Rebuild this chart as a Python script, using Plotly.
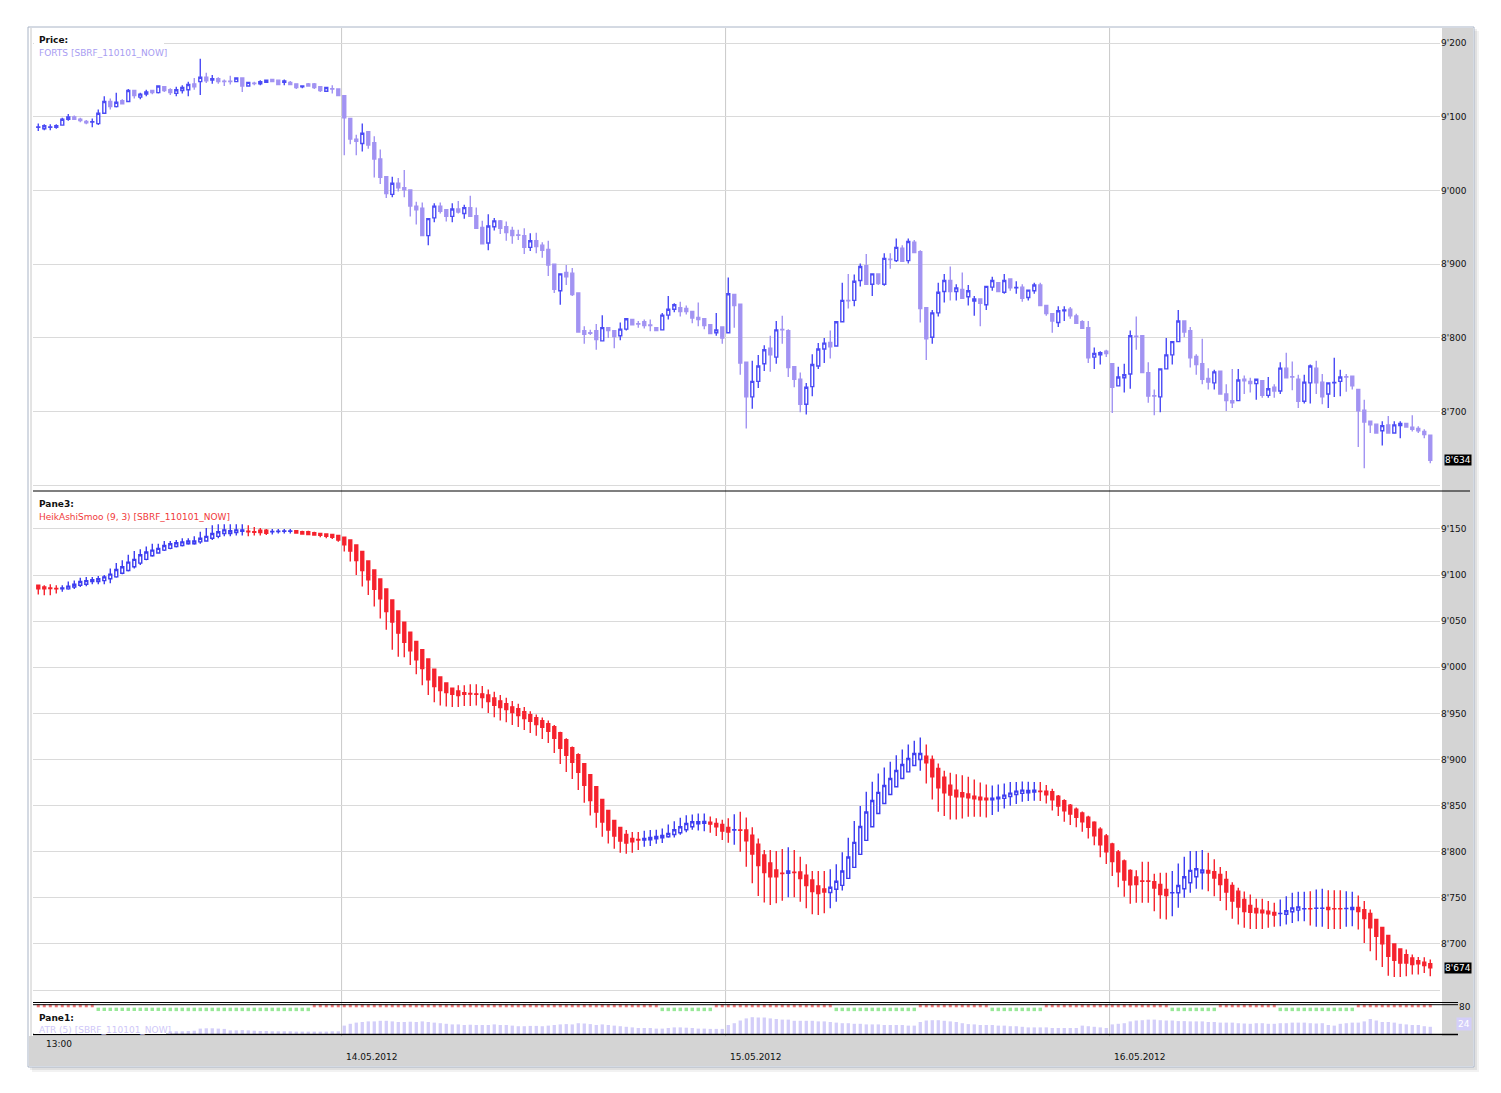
import plotly.graph_objects as go

# ---------------- DATA ----------------
price_open = [
    9086, 9084, 9086, 9086, 9089, 9097, 9100, 9097, 9094, 9093,
    9091, 9105, 9121, 9114, 9122, 9121, 9136, 9127, 9131, 9136,
    9133, 9141, 9137, 9132, 9136, 9137, 9145, 9148, 9154, 9150,
    9152, 9148.5, 9148.5, 9148, 9153, 9142, 9146, 9145, 9147, 9151,
    9150, 9147, 9147, 9145, 9141, 9145, 9145, 9141, 9135, 9138.5,
    9138, 9129, 9098, 9070, 9064, 9080, 9065, 9043, 9019, 8995,
    9010, 9004, 9001, 8979, 8976, 8939, 8963, 8979, 8974, 8965,
    8975, 8969, 8977, 8966, 8950, 8929, 8951, 8959, 8951, 8946,
    8940, 8939, 8923, 8932, 8926, 8920, 8900, 8864, 8889, 8888,
    8861, 8810, 8807, 8810, 8796, 8814, 8810, 8803, 8812, 8825,
    8819.5, 8822, 8817.5, 8814, 8811, 8831, 8839, 8841, 8840, 8836,
    8828, 8826, 8818, 8807, 8815, 8807, 8859, 8846, 8767, 8720,
    8741, 8765, 8786, 8774, 8811.5, 8810, 8761, 8744, 8710, 8734,
    8762, 8785, 8794, 8789, 8822, 8851, 8851, 8878, 8898, 8873,
    8887, 8873, 8907, 8905, 8922, 8905, 8930, 8917, 8841, 8801,
    8834, 8863, 8878, 8863, 8866, 8856, 8850, 8853, 8845, 8869,
    8875, 8862, 8880, 8868, 8869, 8855, 8864, 8872, 8844, 8833,
    8821, 8837, 8839, 8830, 8822, 8814, 8774, 8777, 8782, 8765,
    8735, 8746, 8751, 8802.5, 8803, 8753, 8721.5, 8720, 8758, 8777,
    8795, 8823, 8810, 8775, 8765, 8745, 8739, 8755, 8724, 8715,
    8715, 8744, 8741, 8738, 8742, 8722, 8733, 8728, 8759, 8747.5,
    8744, 8714, 8739, 8759, 8740, 8724, 8739, 8741, 8747.5, 8748,
    8730, 8702, 8687, 8683, 8674, 8682, 8671, 8681, 8684, 8679,
    8677, 8673, 8668,
]
price_high = [
    9091, 9090, 9090, 9090, 9099, 9104, 9102, 9099, 9096, 9098,
    9110, 9128, 9125, 9133, 9124, 9138, 9137, 9133, 9137, 9137,
    9143, 9142, 9139, 9141, 9143, 9148, 9153, 9179, 9160, 9157,
    9154, 9151, 9156, 9154, 9153, 9148, 9148, 9150, 9151, 9152,
    9150, 9151, 9149, 9145, 9143, 9146, 9146, 9141, 9141, 9143,
    9138, 9129, 9099, 9076, 9091, 9081, 9074, 9056, 9019, 9019,
    9017, 9028, 9002, 8985, 8984, 8963, 8983, 8984, 8975, 8983,
    8986, 8981, 8993, 8977, 8959, 8968, 8963, 8960, 8958, 8951,
    8947, 8949, 8942, 8943, 8930, 8932, 8900, 8887, 8899, 8895,
    8861, 8816, 8811, 8819, 8831, 8814, 8810, 8821, 8827, 8826,
    8823, 8825, 8825, 8815, 8834, 8857, 8847, 8849, 8844, 8836,
    8848, 8826, 8818, 8834, 8815, 8882, 8859, 8846, 8767, 8769,
    8777, 8790, 8803, 8823, 8830, 8812, 8761, 8753, 8739, 8778,
    8793, 8800, 8810, 8823, 8875, 8887, 8886, 8901, 8914, 8888,
    8888, 8915, 8915, 8935, 8926, 8935, 8933, 8919, 8841, 8838,
    8875, 8887, 8897, 8873, 8889, 8872, 8857, 8853, 8870, 8883,
    8875, 8887, 8880, 8877, 8873, 8865, 8875, 8875, 8844, 8833,
    8843, 8843, 8842, 8833, 8824, 8823, 8787, 8782, 8784, 8765,
    8761, 8765, 8810, 8829, 8803, 8767, 8730, 8758, 8800, 8795,
    8838, 8823, 8815, 8778, 8799, 8759, 8757, 8755, 8737, 8758,
    8758, 8749, 8746, 8745, 8742, 8747, 8737, 8767, 8780, 8768,
    8750, 8750, 8764, 8769, 8751, 8739, 8773, 8757, 8751, 8749,
    8730, 8716, 8687, 8683, 8687, 8694, 8687, 8687, 8684, 8695,
    8680, 8676, 8669,
]
price_low = [
    9081, 9082, 9082, 9084, 9089, 9095, 9096, 9093, 9090, 9086,
    9089, 9104, 9110, 9113, 9117, 9120, 9125, 9124, 9128, 9131,
    9132, 9134, 9130, 9128, 9132, 9128, 9137, 9130, 9146, 9145,
    9145, 9142, 9144, 9147, 9134, 9141, 9143, 9143, 9146, 9147,
    9143, 9143, 9143, 9138, 9139, 9141, 9138, 9134, 9134, 9132,
    9129, 9048, 9063, 9048, 9053, 9057, 9018, 9009, 8990, 8991,
    8999, 8991, 8965, 8954, 8939, 8926, 8957, 8969, 8958, 8957,
    8969, 8962, 8965, 8948, 8927, 8919, 8946, 8941, 8932, 8928,
    8933, 8914, 8918, 8915, 8909, 8884, 8861, 8845, 8872, 8857,
    8807, 8792, 8804, 8784, 8796, 8800, 8786, 8797, 8810, 8817,
    8814, 8813, 8809, 8810, 8810, 8825, 8835, 8829, 8832, 8820,
    8816, 8812, 8805, 8803, 8792, 8807, 8814, 8750, 8677, 8704,
    8732, 8755, 8754, 8765, 8792, 8747, 8733, 8699, 8696, 8721,
    8758, 8766, 8772, 8788, 8822, 8840, 8843, 8870, 8873, 8857,
    8872, 8871, 8894, 8903, 8903, 8901, 8916, 8821, 8770, 8792,
    8829, 8848, 8851, 8851, 8854, 8844, 8830, 8816, 8838, 8864,
    8863, 8860, 8864, 8860, 8849, 8851, 8860, 8843, 8830, 8807,
    8815, 8823, 8826, 8819, 8813, 8766, 8758, 8764, 8774, 8698,
    8735, 8726, 8731, 8784, 8753, 8712, 8695, 8699, 8758, 8764,
    8795, 8801, 8760, 8750, 8737, 8730, 8730, 8724, 8701, 8705,
    8715, 8724, 8726, 8716, 8719, 8719, 8719, 8724, 8746, 8729,
    8705, 8711, 8711, 8724, 8710, 8705, 8720, 8721, 8727, 8730,
    8652, 8623, 8671, 8671, 8654, 8671, 8671, 8664, 8679, 8673,
    8671, 8664, 8630,
]
price_close = [
    9086.5, 9088, 9086.5, 9088, 9097, 9100, 9097, 9095, 9092, 9093.5,
    9105, 9121, 9114, 9120, 9118, 9136, 9129, 9131, 9134, 9133,
    9142, 9136, 9133, 9137, 9140, 9144, 9141, 9154, 9149, 9152,
    9148, 9148, 9148, 9153, 9142, 9147, 9145.5, 9148, 9150, 9148,
    9144, 9149, 9144, 9140, 9142, 9142, 9140, 9136, 9140, 9138,
    9129, 9099, 9070, 9067, 9078, 9062, 9043, 9018, 8996, 9010,
    9004, 9001, 8979, 8974, 8939, 8962, 8979, 8972, 8965, 8975,
    8971, 8977, 8965, 8949, 8928, 8952, 8959, 8949, 8943, 8939,
    8939.5, 8923, 8932, 8924, 8919, 8899, 8866, 8887, 8883, 8859,
    8808, 8805, 8806.5, 8798, 8814, 8810, 8802, 8812, 8826, 8818,
    8819, 8817, 8817, 8810, 8831, 8839, 8845, 8836, 8836, 8827,
    8825, 8817, 8806, 8811, 8800, 8860, 8844, 8766, 8720, 8741,
    8762, 8784, 8777, 8811, 8811, 8760, 8744, 8710, 8733, 8764,
    8785, 8793, 8788, 8822, 8851, 8850.5, 8877, 8897, 8873, 8887,
    8874, 8908, 8906.5, 8923, 8904, 8931, 8916, 8840, 8799, 8834,
    8862, 8878, 8863, 8868, 8854, 8864, 8853, 8847, 8870, 8878,
    8863, 8878, 8868, 8868.5, 8854, 8865, 8872, 8844, 8833, 8823,
    8837, 8838, 8830, 8820, 8813, 8773, 8779, 8780, 8779, 8733,
    8747, 8750, 8803, 8802, 8753, 8721, 8721, 8758, 8777, 8795,
    8823, 8808, 8773, 8764, 8744, 8740, 8754, 8724, 8715, 8712,
    8743, 8742, 8738, 8744, 8722, 8731, 8728, 8759, 8746, 8747,
    8714, 8740, 8762, 8739, 8720, 8739, 8739.5, 8747, 8747, 8735,
    8701, 8686, 8682, 8671, 8681, 8671, 8682, 8684, 8679, 8676,
    8674, 8669, 8634,
]

ha_open = [
    9089, 9087, 9086, 9085.5, 9085, 9085, 9087, 9089, 9090, 9093,
    9093, 9094, 9096, 9098, 9102, 9105, 9109, 9113, 9117, 9121,
    9124, 9127, 9129, 9131, 9132, 9134, 9134, 9136, 9137, 9140,
    9142, 9145, 9145, 9146, 9147.5, 9147.5, 9147, 9148.6, 9148.6, 9147,
    9147.2, 9147.4, 9147.5, 9148.2, 9147, 9147, 9146, 9145, 9144.6, 9144,
    9143, 9141, 9138, 9132.7, 9125.5, 9115.3, 9105.6, 9095.8, 9085, 9073,
    9061, 9049, 9038, 9028, 9019, 9009, 8998, 8989.5, 8983, 8977.3,
    8974.4, 8972.3, 8971.5, 8971.2, 8971.2, 8970, 8966.8, 8963.6, 8960.4, 8957.1,
    8955, 8951.7, 8948.5, 8945.2, 8942, 8938.7, 8935.5, 8929, 8921.4, 8912.8,
    8905.2, 8895.5, 8883.6, 8870.6, 8856.6, 8844.7, 8833.9, 8826.3, 8818.7, 8814.4,
    8813.3, 8812.7, 8813, 8814, 8815.1, 8816.2, 8818.7, 8820.5, 8823.8, 8827,
    8830.3, 8830.9, 8832.1, 8830.6, 8829.5, 8826.3, 8823.6, 8823.6, 8823.5, 8818,
    8808, 8796.4, 8787.7, 8780.1, 8776.8, 8776.5, 8777.8, 8778, 8774.4, 8769.3,
    8762.8, 8759.6, 8755.8, 8759.2, 8763.5, 8771.1, 8783, 8797.1, 8812.3, 8827.1,
    8841.5, 8852.3, 8862.1, 8870.4, 8879.4, 8886.6, 8893.5, 8900, 8903.6, 8900,
    8890.3, 8880.9, 8872.2, 8866.8, 8863.9, 8862.5, 8860.3, 8859.2, 8858.1, 8856.3,
    8857.4, 8857.8, 8859.9, 8862.1, 8863.2, 8863.9, 8864.6, 8865.6, 8865.7, 8865,
    8860.3, 8855.2, 8850.5, 8846.2, 8841.9, 8837.5, 8832.1, 8824.5, 8817, 8808.3,
    8799.6, 8789.9, 8779.7, 8772.5, 8768.3, 8768.2, 8767.4, 8764.5, 8759.1, 8755.4,
    8755.4, 8759.8, 8766.3, 8772.8, 8777.2, 8779.7, 8778.3, 8775.4, 8769.9, 8763.4,
    8757.2, 8748.2, 8741.7, 8738.4, 8736.6, 8735.5, 8734.1, 8732.9, 8732.2, 8734.8,
    8736.6, 8738, 8738.2, 8738.6, 8738.6, 8739.5, 8738.2, 8738.2, 8738.3, 8737.3,
    8739.5, 8737, 8733, 8726.4, 8717.8, 8709.1, 8700, 8694.6, 8688.4, 8684.8,
    8681.9, 8680.1, 8678.6,
]
ha_high = [
    9089.5, 9089, 9090, 9089, 9089, 9093, 9094, 9097, 9098, 9098,
    9099, 9100, 9107, 9113, 9116, 9122, 9126, 9128, 9131, 9134,
    9134, 9137, 9137, 9138, 9140, 9140, 9142, 9147, 9151, 9154,
    9155, 9155, 9155, 9155, 9155, 9154, 9152, 9151, 9150, 9150,
    9150, 9150, 9150, 9149, 9148, 9148, 9147, 9146, 9145.3, 9144.6,
    9143.5, 9141.7, 9138, 9132.7, 9125.5, 9115.3, 9105.6, 9095.8, 9085, 9073,
    9061, 9049, 9038, 9028, 9019, 9009, 8998, 8989.5, 8983, 8977.3,
    8980.5, 8980.5, 8981.6, 8981.6, 8979.8, 8975.9, 8973.5, 8969.9, 8967, 8963.3,
    8960.4, 8956.8, 8952.4, 8948.8, 8945.6, 8942.3, 8937.3, 8930, 8922.9, 8914.2,
    8906.7, 8896.2, 8884.3, 8871, 8857.3, 8845.4, 8834.6, 8827, 8823.4, 8821.3,
    8821.3, 8822.7, 8823.4, 8823.8, 8825.2, 8829.5, 8833.1, 8836.8, 8839.6, 8840.4,
    8841.4, 8841.4, 8838.2, 8836.4, 8834.6, 8836.4, 8840.7, 8843.3, 8837.2, 8826.4,
    8814.4, 8801.8, 8801.8, 8800.7, 8802.9, 8804.7, 8801.8, 8794.6, 8786.3, 8779,
    8779, 8779, 8780.9, 8786.3, 8799.3, 8815.2, 8833.2, 8849.5, 8865, 8875.8,
    8884.8, 8891.3, 8897.5, 8904.7, 8910.8, 8916.2, 8920.2, 8923.8, 8916.2, 8904.3,
    8895.7, 8887.7, 8885.6, 8884.1, 8883, 8881.2, 8878.3, 8875.1, 8872.9, 8871.8,
    8872.9, 8874, 8875.5, 8875.5, 8876.2, 8875.8, 8875.5, 8875.5, 8872.2, 8868.2,
    8861.4, 8857, 8851.6, 8848, 8843.7, 8839, 8832.9, 8826.4, 8819.1, 8809.7,
    8801.8, 8791.5, 8781, 8780, 8789.1, 8789.1, 8776.1, 8777.2, 8777.2, 8779,
    8787.3, 8794.6, 8800.7, 8800.7, 8801.8, 8798.9, 8791.7, 8783.3, 8779, 8767,
    8760.9, 8756.9, 8753.6, 8748.9, 8748.9, 8746.4, 8744.6, 8748.2, 8751.8, 8755.4,
    8756.5, 8756.5, 8757.2, 8759.1, 8759.8, 8758.3, 8758.3, 8758.3, 8757.2, 8756.5,
    8752.5, 8746.4, 8737.3, 8727, 8717.8, 8709.1, 8700, 8694.6, 8693.8, 8688.4,
    8685.9, 8685.5, 8683,
]
ha_low = [
    9079, 9078, 9078, 9080, 9082, 9084, 9085, 9087, 9088, 9090,
    9090, 9090, 9091, 9097, 9101, 9104, 9107, 9111, 9116, 9120,
    9123, 9126, 9128, 9130, 9131, 9133, 9133, 9134, 9136, 9138,
    9140, 9142, 9142, 9143, 9143, 9142, 9143, 9143, 9143.5, 9144,
    9145, 9145, 9145, 9145.3, 9144, 9143.5, 9143, 9141, 9140, 9139,
    9136, 9125.5, 9114.6, 9100, 9087.5, 9078.5, 9066, 9053, 9040.6, 9019,
    9011.5, 9011, 9002.5, 8992.4, 8980.5, 8970, 8962, 8958.6, 8957.5, 8956.8,
    8956.8, 8958, 8958, 8958.6, 8955.7, 8950.3, 8945.9, 8942.3, 8940.5, 8937.3,
    8935.1, 8931.9, 8928.6, 8925.8, 8922.2, 8917.8, 8906.9, 8895.1, 8886.5, 8878.9,
    8867, 8853, 8839.3, 8826, 8816.2, 8809, 8803.2, 8798.9, 8797.8, 8798.9,
    8801.8, 8805.4, 8806.1, 8808.6, 8809.4, 8815, 8815.5, 8818.3, 8821, 8823.8,
    8823.1, 8822.3, 8820.5, 8816.9, 8812.6, 8809.7, 8807.6, 8800, 8783.8, 8765.7,
    8752, 8744.8, 8742.2, 8744, 8746.9, 8750.5, 8750.5, 8745.8, 8738.6, 8732.1,
    8731.4, 8733.2, 8738.6, 8745.8, 8757.8, 8770.4, 8782.7, 8796.4, 8811.6, 8827.1,
    8840.8, 8851.6, 8861.4, 8869.7, 8878.7, 8885.9, 8892.8, 8887.7, 8874, 8856.7,
    8843.3, 8838.6, 8835, 8835, 8836.1, 8837.9, 8837.9, 8837.9, 8837.2, 8839.7,
    8843.3, 8846.9, 8849.8, 8851.6, 8854.2, 8854.9, 8855.2, 8854.9, 8852.3, 8844.8,
    8838.6, 8832.5, 8828.9, 8826.4, 8821.7, 8814.4, 8806.9, 8793.9, 8786.6, 8773.6,
    8761.4, 8751.1, 8743.5, 8744.6, 8744.6, 8744.6, 8735.5, 8727.2, 8726.4, 8730.1,
    8739.1, 8750, 8755.4, 8759.8, 8759.1, 8757.2, 8751.8, 8746.4, 8736.6, 8727.2,
    8721, 8717.4, 8716.3, 8716.3, 8716.3, 8717.4, 8718.5, 8719.2, 8721, 8722.8,
    8724.6, 8724.6, 8719.9, 8718.5, 8718.5, 8716.3, 8716.3, 8716.3, 8718.5, 8719.2,
    8715.6, 8701.1, 8692, 8682.2, 8675, 8665.6, 8664.1, 8664.1, 8664.9, 8666.7,
    8666.7, 8668.5, 8664.9,
]
ha_close = [
    9085, 9085, 9085.5, 9085, 9086, 9088, 9090, 9093, 9094, 9095,
    9096, 9098, 9101, 9106, 9109, 9114, 9117, 9122, 9125, 9127,
    9129, 9132, 9134, 9135, 9136, 9137, 9137, 9140, 9142, 9145,
    9147, 9149, 9148, 9149, 9149, 9147, 9146.5, 9146, 9145.3, 9147.4,
    9147.6, 9147.8, 9147.9, 9145.7, 9144.5, 9144, 9143.5, 9143, 9142, 9141,
    9138, 9132.7, 9126, 9115.7, 9105, 9094.8, 9084.7, 9074.2, 9060.5, 9049,
    9037, 9027, 9018, 9008, 8998.6, 8986.3, 8979.1, 8974.8, 8972.6, 8970.8,
    8969.4, 8970.8, 8971, 8970.8, 8967.2, 8962.9, 8958.9, 8956.4, 8954.2, 8951,
    8947.7, 8944.5, 8941.3, 8938, 8934.8, 8930.5, 8922.9, 8912.1, 8904.5, 8896.9,
    8886.1, 8872.1, 8855.5, 8842.9, 8832.1, 8823.4, 8816.9, 8811.5, 8809.4, 8810.8,
    8812.7, 8814.4, 8815.5, 8816.6, 8817.7, 8819.8, 8823.8, 8827, 8830.6, 8832.4,
    8832.4, 8832.8, 8829.9, 8827, 8822.3, 8821.3, 8823.8, 8823.3, 8811.9, 8797.5,
    8785, 8777.3, 8772.9, 8772.9, 8776.3, 8779, 8777.3, 8770.8, 8763.2, 8756.7,
    8754.5, 8756.3, 8761.4, 8767.9, 8779, 8794.2, 8810.1, 8827.4, 8843, 8855.6,
    8864.3, 8871.8, 8879.4, 8888.1, 8894.6, 8901.1, 8906.5, 8906.5, 8896.4, 8881.2,
    8869.3, 8863.9, 8861.4, 8859.6, 8859.6, 8858.5, 8857.4, 8856.3, 8856.3, 8858.1,
    8859.2, 8861.4, 8863.5, 8865.7, 8866.8, 8866.4, 8866.8, 8865.3, 8861.7, 8856.3,
    8849.5, 8844.4, 8840.8, 8837.2, 8832.5, 8826.4, 8817.3, 8807.6, 8800, 8789.2,
    8778.3, 8769.2, 8764.1, 8764.5, 8768, 8767.8, 8760.5, 8753.6, 8752.5, 8755.6,
    8763.4, 8772.8, 8779.7, 8781.5, 8780.1, 8776.8, 8771.4, 8764.5, 8756.2, 8746.4,
    8739.9, 8735.1, 8734.4, 8733.7, 8733.7, 8732.6, 8731.2, 8733.1, 8735.9, 8739.1,
    8740.2, 8738.2, 8738, 8738.8, 8738.8, 8737.3, 8738, 8738, 8738.5, 8739.5,
    8735.1, 8727.5, 8717.4, 8708.3, 8700, 8686.6, 8682.2, 8679.3, 8679.3, 8677.5,
    8678.3, 8676.4, 8674,
]

atr_values = [
    9, 9, 9, 9, 9, 10, 10, 10, 9, 9,
    11, 13, 14, 14, 13, 13, 12, 11, 10, 10,
    10, 10, 9, 9, 9, 10, 11, 18, 19, 19,
    18, 17, 12, 12, 13, 12, 11, 10, 10, 9,
    9, 9, 9, 8, 8, 8, 8, 8, 8, 9, 9,
    28, 34, 38, 40, 42, 42, 44, 44, 42, 40,
    40, 41, 40, 42, 40, 38, 36, 34, 32, 32,
    30, 31, 30, 30, 30, 32, 30, 30, 28, 26,
    26, 27, 27, 26, 28, 30, 32, 33, 32, 36,
    35, 33, 30, 32, 30, 28, 26, 24, 22, 20,
    20, 20, 18, 18, 20, 22, 22, 21, 20, 18, 18, 17, 17, 17,
    30, 36, 45, 52, 56, 55, 55, 52, 50, 48, 48, 44, 44, 44, 44, 42,
    42, 40, 38, 36, 36, 34, 34, 32, 32, 32, 30, 30, 30, 30, 28, 28,
    40, 45, 46, 46, 44, 42, 40, 36, 33, 32, 30, 30, 30, 28,
    28, 26, 26, 24, 22, 22, 22, 22, 20, 20, 20, 20, 20, 28, 26, 24, 22, 20,
    32, 34, 36, 42, 45, 46, 48, 48, 46, 45, 45, 43, 43, 42, 42, 42, 40, 40, 38, 38, 38, 36,
    35, 34, 36, 36, 34, 34, 36, 36, 38, 38, 38, 36, 35, 36, 30, 28, 34, 36, 38, 38,
    42, 50, 45, 40, 40, 38, 34, 32, 30, 30, 26, 24,
]

signal_states = ["sell", "buy", "sell", "buy", "sell", "buy", "sell", "buy", "sell", "buy", "sell", "buy", "sell"]
signal_lengths = [10, 36, 58, 9, 20, 14, 12, 9, 21, 8, 10, 13, 13]
signal_level = 80

price_ticks = [8600, 8700, 8800, 8900, 9000, 9100, 9200]
ha_ticks = [8650, 8700, 8750, 8800, 8850, 8900, 8950, 9000, 9050, 9100, 9150]

day_labels = ["14.05.2012", "15.05.2012", "16.05.2012"]
day_start_index = [51, 115, 179]
time_label = "13:00"
time_label_index = 1

# ---------------- STYLE / LAYOUT ----------------
W, H = 1501, 1093
BLUE = "#4B4BF5"
LAV = "#A293F2"
RED = "#F5222D"
HABLUE = "#3C3CF0"
ATRC = "#D3CEF9"
FONT = "DejaVu Sans"


def fx(px):
    return px / W


def fy(py):
    return 1 - py / H


def fmt(v):
    return f"{int(round(v)):,}".replace(",", "'")


n = len(price_open)
idx = list(range(n))
x_range = [-0.88, 233.62]
x_dom = [fx(33), fx(1440)]

fig = go.Figure()

fig.add_trace(go.Candlestick(
    x=idx, open=price_open, high=price_high, low=price_low, close=price_close,
    xaxis="x", yaxis="y", whiskerwidth=0, hoverinfo="skip", showlegend=False,
    increasing=dict(line=dict(color=BLUE, width=1.4), fillcolor="white"),
    decreasing=dict(line=dict(color=LAV, width=1.4), fillcolor=LAV),
))
fig.add_trace(go.Candlestick(
    x=idx, open=ha_open, high=ha_high, low=ha_low, close=ha_close,
    xaxis="x2", yaxis="y2", whiskerwidth=0, hoverinfo="skip", showlegend=False,
    increasing=dict(line=dict(color=HABLUE, width=1.4), fillcolor="white"),
    decreasing=dict(line=dict(color=RED, width=1.4), fillcolor=RED),
))
fig.add_trace(go.Bar(
    x=idx, y=atr_values, xaxis="x3", yaxis="y3", width=0.55,
    marker=dict(color=ATRC, line=dict(width=0)), hoverinfo="skip", showlegend=False,
))

# signal dots
sx_buy, sx_sell = [], []
pos = 0
for st, ln in zip(signal_states, signal_lengths):
    for k in range(pos, pos + ln):
        (sx_buy if st == "buy" else sx_sell).append(k)
    pos += ln
fig.add_trace(go.Scatter(
    x=sx_sell, y=[94] * len(sx_sell), xaxis="x3", yaxis="y3", mode="markers",
    marker=dict(symbol="square", size=3, color="#F07878", line=dict(width=0)),
    hoverinfo="skip", showlegend=False,
))
fig.add_trace(go.Scatter(
    x=sx_buy, y=[82] * len(sx_buy), xaxis="x3", yaxis="y3", mode="markers",
    marker=dict(symbol="square", size=3.5, color="#98E898", line=dict(width=0)),
    hoverinfo="skip", showlegend=False,
))

xcommon = dict(range=x_range, domain=x_dom, showgrid=False, zeroline=False,
               showticklabels=False, ticks="", fixedrange=True,
               rangeslider=dict(visible=False))
ycommon = dict(side="right", showgrid=True, gridcolor="#DADADA", gridwidth=1,
               zeroline=False, ticks="", fixedrange=True, showline=False,
               tickfont=dict(family=FONT, size=9, color="#111111"))

fig.update_layout(
    width=W, height=H, margin=dict(l=0, r=0, t=0, b=0),
    paper_bgcolor="white", plot_bgcolor="white", showlegend=False,
    font=dict(family=FONT, size=9, color="#111111"),
    xaxis=dict(anchor="y", **xcommon),
    xaxis2=dict(anchor="y2", **xcommon),
    xaxis3=dict(anchor="y3", **xcommon),
    yaxis=dict(anchor="x", domain=[fy(490), fy(28)], range=[8593.6, 9220.8],
               tickvals=price_ticks,
               ticktext=[fmt(v) if v != price_ticks[0] else "" for v in price_ticks],
               **ycommon),
    yaxis2=dict(anchor="x2", domain=[fy(1002), fy(493)], range=[8637, 9189],
                tickvals=ha_ticks,
                ticktext=[fmt(v) if v != ha_ticks[0] else "" for v in ha_ticks],
                **ycommon),
    yaxis3=dict(anchor="x3", domain=[fy(1034), fy(1004)], range=[0, 100],
                showgrid=False, zeroline=False, showticklabels=False,
                ticks="", fixedrange=True),
)

shapes = []


def prect(x0, y0, x1, y1, fill, line=None, layer="below", lw=1):
    shapes.append(dict(type="rect", xref="paper", yref="paper",
                       x0=fx(x0), x1=fx(x1), y0=fy(y1), y1=fy(y0),
                       fillcolor=fill, layer=layer,
                       line=dict(color=line if line else "rgba(0,0,0,0)", width=lw if line else 0)))


def pline(x0, y0, x1, y1, color, width=1, layer="above"):
    shapes.append(dict(type="line", xref="paper", yref="paper",
                       x0=fx(x0), x1=fx(x1), y0=fy(y0), y1=fy(y1),
                       line=dict(color=color, width=width), layer=layer))


# window shadow + frame
prect(32, 31, 1479, 1072, "rgba(0,0,0,0.05)")
prect(30, 29, 1477, 1070, "rgba(0,0,0,0.07)")
prect(28, 27, 1474, 1067, "white", line="#A9B4C6")
# right scale band and bottom time band
prect(1442, 28, 1473, 1036, "#D4D4D4")
prect(29, 1036, 1473, 1066, "#D4D4D4")
pline(31, 28, 31, 1036, "#C8C8C8", 1, layer="below")

# day separators
for d in day_start_index:
    shapes.append(dict(type="line", xref="x", yref="paper", x0=d - 0.45, x1=d - 0.45,
                       y0=fy(1037), y1=fy(28), line=dict(color="#C9C9C9", width=1),
                       layer="below"))

# pane separators
pline(33, 491, 1470, 491, "black", 1.2)
pline(33, 1002.5, 1458, 1002.5, "black", 1.2)
pline(33, 1004.7, 1458, 1004.7, "black", 1.0)
pline(33, 1034.5, 1458, 1034.5, "black", 1.6)

# white label boxes
prect(34, 35, 164, 60, "white", layer="above")
prect(34, 497, 226, 523, "white", layer="above")
prect(34, 1011, 166, 1034, "white", layer="above")

fig.update_layout(shapes=shapes)

ann = []


def txt(x, y, s, color="#111111", bold=False, size=9, **kw):
    a = dict(xref="paper", yref="paper", x=fx(x), y=fy(y), text=("<b>%s</b>" % s) if bold else s,
             showarrow=False, xanchor="left", yanchor="middle",
             font=dict(family=FONT, size=size, color=color))
    a.update(kw)
    ann.append(a)


txt(37, 40, "Price:", bold=True)
txt(37, 53, "FORTS [SBRF_110101_NOW]", color="#A89CF2")
txt(37, 504, "Pane3:", bold=True)
txt(37, 517, "HeikAshiSmoo (9, 3) [SBRF_110101_NOW]", color="#F03A3A")
txt(37, 1018, "Pane1:", bold=True)
txt(37, 1030, "ATR (5) [SBRF_110101_NOW]", color="#CFC8F8")

# time axis labels
ann.append(dict(xref="x3", yref="paper", x=time_label_index, y=fy(1044), text=time_label,
                showarrow=False, xanchor="left", yanchor="middle",
                font=dict(family=FONT, size=9, color="#111111")))
for d, lab in zip(day_start_index, day_labels):
    ann.append(dict(xref="x3", yref="paper", x=d, y=fy(1057), text=lab,
                    showarrow=False, xanchor="left", yanchor="middle",
                    font=dict(family=FONT, size=9, color="#111111")))

# last value markers
ann.append(dict(xref="paper", yref="y", x=fx(1444), y=price_close[-1], text=fmt(price_close[-1]),
                showarrow=False, xanchor="left", yanchor="middle", bgcolor="black",
                borderpad=0, font=dict(family=FONT, size=9, color="white")))
ann.append(dict(xref="paper", yref="y2", x=fx(1444), y=ha_close[-1], text=fmt(ha_close[-1]),
                showarrow=False, xanchor="left", yanchor="middle", bgcolor="black",
                borderpad=0, font=dict(family=FONT, size=9, color="white")))
txt(1457, 1007, str(signal_level), color="#111111")
txt(1456, 1024, str(atr_values[-1]), color="white", bgcolor="#D3CEF9", borderpad=1)

fig.update_layout(annotations=ann)

fig.write_html("out.html", config={"displayModeBar": False},
               post_script="document.body.style.margin='0px';document.body.style.overflow='hidden';")
